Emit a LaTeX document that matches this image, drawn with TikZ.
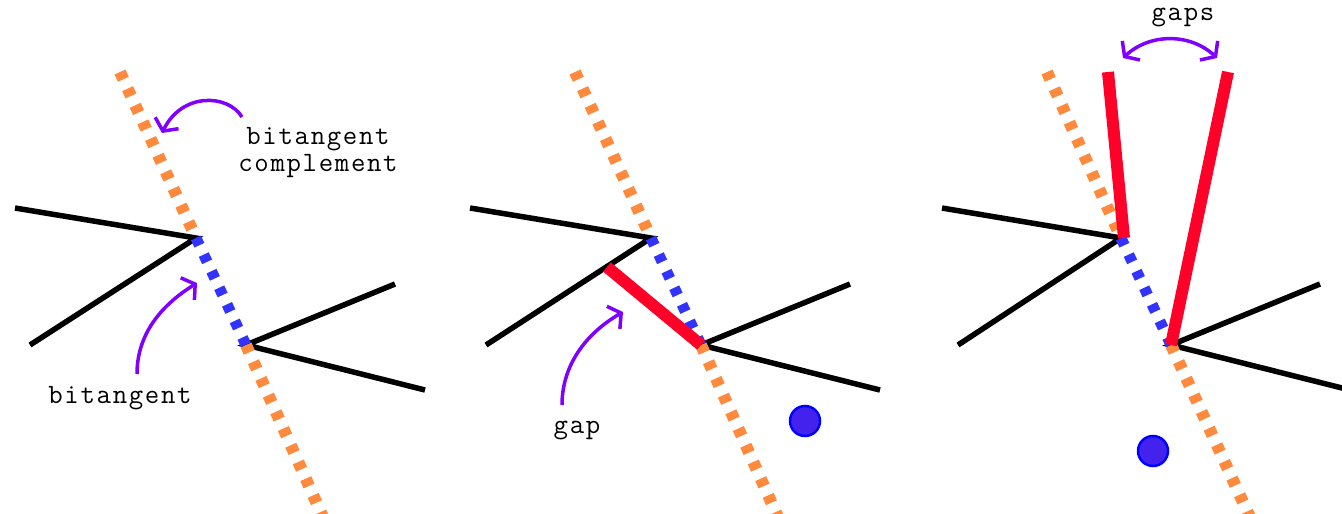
\documentclass[tikz,border=0pt]{standalone}
\usepackage{fontspec}
\newfontfamily\lblfont[LetterSpace=6]{Latin Modern Mono}
\usetikzlibrary{arrows.meta}
\definecolor{bitorange}{HTML}{FF8A3D}
\definecolor{bitblue}{HTML}{3333FF}
\definecolor{gapred}{HTML}{FF0028}
\definecolor{arcpurple}{HTML}{8000FF}
\definecolor{dotfill}{HTML}{4422EE}
\tikzset{
  hull/.style={line width=5.5pt},
  comp/.style={bitorange, line width=12pt, dash pattern=on 8pt off 10.3pt},
  bitan/.style={bitblue, line width=11pt, dash pattern=on 8pt off 10.3pt},
  gapseg/.style={gapred, line width=12pt},
  lbl/.style={font=\lblfont\fontsize{28}{27}\selectfont, align=center, inner sep=0pt},
  curv/.style={arcpurple, line width=3.5pt},
  barb/.tip={Straight Barb[length=9pt, width=26pt]},
  obst/.style={circle, draw=blue, fill=dotfill, line width=2.5pt, minimum size=30pt, inner sep=0pt}}
\begin{document}
\begin{tikzpicture}[x=1pt, y=-1pt]
  \useasboundingbox (0,0) rectangle (1342,514);
  \clip (0,0) rectangle (1342,514);
  % panel 1: bitangent and its complement
  \coordinate (top1) at (120,72); \coordinate (v1) at (196,238);
  \coordinate (w1) at (246,345); \coordinate (bot1) at (326,524);
  \draw[hull] (15,208) -- (v1) -- (30,345);
  \draw[hull] (395,284) -- (w1) -- (425,390);
  \draw[comp] (top1) -- (v1); \draw[comp] (w1) -- (bot1);
  \draw[bitan] (v1) -- (w1);
  \node[lbl] (compl) at (318,153) {bitangent\\complement};
  \coordinate (ca1) at (242,117); \coordinate (cb1) at (162,133);
  \draw[curv, -{barb}] (ca1) .. controls (228,94) and (182,92) .. (cb1);
  \node[lbl] (bitl) at (120,398) {bitangent};
  \coordinate (ba1) at (137,374); \coordinate (bb1) at (197,283);
  \draw[curv, -{barb}] (ba1) .. controls (137,335) and (160,306) .. (bb1);
  % panel 2: one gap
  \begin{scope}[xshift=455pt]
    \coordinate (top2) at (120,72); \coordinate (v2) at (196,238);
    \coordinate (w2) at (246,345); \coordinate (bot2) at (326,524);
    \coordinate (g2) at (152,267);
    \draw[hull] (15,208) -- (v2) -- (31,345);
    \draw[hull] (395,284) -- (w2) -- (425,390);
    \draw[comp] (top2) -- (v2); \draw[comp] (w2) -- (bot2);
    \draw[bitan] (v2) -- (w2);
    \draw[gapseg] (g2) -- (w2);
    \node[obst] (dot2) at (350,421) {};
    \node[lbl] (gapl) at (122,430) {gap};
    \coordinate (ga2) at (107,405); \coordinate (gb2) at (168,312);
    \draw[curv, -{barb}] (ga2) .. controls (107,366) and (130,334) .. (gb2);
  \end{scope}
  % panel 3: two gaps
  \begin{scope}[xshift=925pt]
    \coordinate (top3) at (122,72); \coordinate (v3) at (196,238);
    \coordinate (w3) at (246,345); \coordinate (bot3) at (328,524);
    \draw[hull] (17,208) -- (v3) -- (33,345);
    \draw[hull] (395,284) -- (w3) -- (425,390);
    \draw[comp] (top3) -- (v3); \draw[comp] (w3) -- (bot3);
    \draw[bitan] (v3) -- (w3);
    \draw[gapseg] (183,72) -- (199,238);
    \draw[gapseg] (303,72) -- (w3);
    \node[obst] (dot3) at (228,451) {};
    \node[lbl] (gapsl) at (258,18) {gaps};
    \coordinate (la3) at (198,58); \coordinate (ra3) at (292,58);
    \draw[curv, {barb}-{barb}] (la3) .. controls (225,33) and (265,33) .. (ra3);
  \end{scope}
\end{tikzpicture}
\end{document}
